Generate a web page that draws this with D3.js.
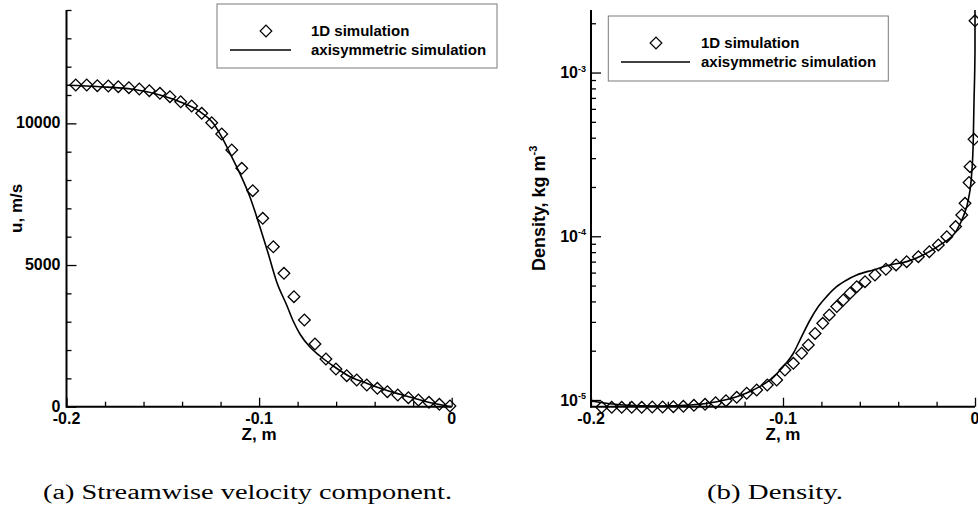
<!DOCTYPE html>
<html><head><meta charset="utf-8">
<script src="https://cdn.jsdelivr.net/npm/d3@7/dist/d3.min.js"></script>
<style>
body{margin:0;background:#fff;}
svg{display:block;}
text{font-family:"Liberation Sans",Arial,sans-serif;font-weight:bold;fill:#000;}
text.cap{font-family:"Liberation Serif","DejaVu Serif",serif;font-weight:normal;}
</style></head><body>
<svg id="c" width="978" height="512"></svg>
<script>
// ---------- data: panel (a) velocity ----------
const uZ1D = [-0.1952,-0.1895,-0.1840,-0.1783,-0.1731,-0.1676,-0.1622,-0.1570,-0.1515,-0.1463,-0.1407,-0.1350,-0.1298,-0.1246,-0.1194,-0.1142,-0.1090,-0.1033,-0.0981,-0.0926,-0.0871,-0.0819,-0.0765,-0.0710,-0.0653,-0.0601,-0.0545,-0.0493,-0.0441,-0.0386,-0.0334,-0.0280,-0.0225,-0.0173,-0.0118,-0.0064,-0.0009];
const uVal1D = [11353,11353,11328,11318,11293,11258,11212,11152,11060,10940,10763,10612,10354,10022,9624,9059,8413,7623,6649,5646,4708,3882,3060,2213,1683,1330,1094,942,766,649,529,413,318,236,155,85,25];
const uZAxi = [-0.2,-0.1827,-0.1654,-0.1515,-0.1412,-0.1307,-0.1238,-0.1195,-0.1151,-0.1100,-0.1048,-0.0996,-0.0953,-0.0909,-0.0857,-0.0823,-0.0788,-0.0736,-0.0684,-0.0615,-0.0528,-0.0441,-0.0355,-0.0268,-0.0182,-0.0096,0];
const uValAxi = [11342,11293,11201,11000,10763,10411,10001,9528,8943,8230,7411,6352,5413,4411,3589,3024,2566,2107,1789,1436,1059,826,614,438,272,120,0];
// ---------- data: panel (b) density ----------
const rhoZ1D = [-0.1944,-0.1892,-0.1840,-0.1788,-0.1736,-0.1681,-0.1627,-0.1571,-0.1519,-0.1464,-0.1406,-0.1351,-0.1297,-0.1241,-0.1189,-0.1137,-0.1082,-0.1033,-0.0990,-0.0946,-0.0903,-0.0868,-0.0833,-0.0793,-0.0759,-0.0720,-0.0686,-0.0651,-0.0616,-0.0573,-0.0521,-0.0464,-0.0411,-0.0356,-0.0295,-0.0238,-0.0191,-0.0147,-0.0101,-0.0069,-0.0052,-0.0031,-0.0026,-0.0005,0];
const rhoVal1D = [9.02e-6,9.02e-6,9.02e-6,9.02e-6,9.02e-6,9.06e-6,9.06e-6,9.10e-6,9.15e-6,9.28e-6,9.41e-6,9.63e-6,9.91e-6,1.038e-5,1.099e-5,1.151e-5,1.235e-5,1.325e-5,1.524e-5,1.674e-5,1.93e-5,2.17e-5,2.55e-5,2.94e-5,3.31e-5,3.72e-5,4.08e-5,4.49e-5,4.92e-5,5.28e-5,5.80e-5,6.29e-5,6.68e-5,7.00e-5,7.51e-5,8.05e-5,8.85e-5,9.95e-5,1.146e-4,1.35e-4,1.59e-4,2.13e-4,2.66e-4,3.91e-4,2.07e-3];
const rhoZAxi = [-0.2,-0.1832,-0.1658,-0.1484,-0.1345,-0.1241,-0.1155,-0.1068,-0.0998,-0.0946,-0.0903,-0.0859,-0.0816,-0.0773,-0.0721,-0.0668,-0.0616,-0.0530,-0.0443,-0.0356,-0.0270,-0.0182,-0.0095,-0.0061,-0.0035,-0.0017,-0.0009,-0.0005,0,0];
const rhoValAxi = [9.86e-6,9.32e-6,9.19e-6,9.32e-6,9.76e-6,1.047e-5,1.151e-5,1.325e-5,1.60e-5,1.93e-5,2.44e-5,3.08e-5,3.72e-5,4.28e-5,4.92e-5,5.41e-5,5.80e-5,6.23e-5,6.68e-5,7.00e-5,7.69e-5,8.85e-5,1.09e-4,1.32e-4,1.67e-4,2.43e-4,3.87e-4,6.8e-4,1.37e-3,2.41e-3];
// ---------- ticks / labels ----------
const zMajor = [-0.2,-0.1,0];
const zMajorLabels = ["-0.2","-0.1","0"];
const zMinor = [-0.18,-0.16,-0.14,-0.12,-0.08,-0.06,-0.04,-0.02];
const uMajor = [0,5000,10000];
const uMajorLabels = ["0","5000","10000"];
const uMinor = [1000,2000,3000,4000,6000,7000,8000,9000,11000,12000,13000,14000];
const rhoMajor = [1e-5,1e-4,1e-3];
const rhoMajorExp = ["-5","-4","-3"];
const rhoMinor = [2e-5,3e-5,4e-5,5e-5,6e-5,7e-5,8e-5,9e-5,2e-4,3e-4,4e-4,5e-4,6e-4,7e-4,8e-4,9e-4,2e-3];
const legendLabels = ["1D simulation","axisymmetric simulation"];
const xTitle = "Z, m";
const captions = ["(a) Streamwise velocity component.","(b) Density."];

const svg = d3.select("#c");
const diamond = d3.symbol().type(d3.symbolSquare).size(68);

function drawPanel(o){
  const g = svg.append("g");
  const x = d3.scaleLinear().domain([-0.2,0]).range([o.x0,o.x1]);
  const y = o.y;
  // line
  const line = d3.line().x((d,i)=>x(o.zA[i])).y((d,i)=>y(o.vA[i])).curve(d3.curveMonotoneX);
  g.append("path").datum(o.vA).attr("d",line).attr("fill","none").attr("stroke","#000").attr("stroke-width",1.6);
  // diamonds
  g.selectAll("path.m").data(o.v1).enter().append("path").attr("class","m")
    .attr("d",diamond).attr("transform",(d,i)=>`translate(${x(o.z1[i])},${y(d)}) rotate(45)`)
    .attr("fill","none").attr("stroke","#000").attr("stroke-width",1.3);
  // x ticks
  const xa = g.append("g").attr("transform",`translate(0,${o.yb})`);
  xa.call(d3.axisBottom(x).tickValues(zMinor).tickSize(-5).tickFormat(""));
  const xb = g.append("g").attr("transform",`translate(0,${o.yb})`);
  xb.call(d3.axisBottom(x).tickValues(zMajor).tickSize(-9).tickFormat(""));
  [xa,xb].forEach(a=>{a.select(".domain").remove();a.selectAll("line").attr("stroke","#000").attr("stroke-width",1.3);});
  zMajor.forEach((v,i)=>{
    g.append("text").attr("x",x(v)).attr("y",o.yb+17).attr("text-anchor","middle").attr("font-size",16).text(zMajorLabels[i]);
  });
  g.append("line").attr("x1",o.x0).attr("x2",o.x1).attr("y1",o.yb).attr("y2",o.yb).attr("stroke","#000").attr("stroke-width",2);
  g.append("line").attr("x1",o.x0).attr("x2",o.x0).attr("y1",o.yt).attr("y2",o.yb+1).attr("stroke","#000").attr("stroke-width",2);
  // y ticks
  const ya = g.append("g").attr("transform",`translate(${o.x0},0)`);
  ya.call(d3.axisLeft(y).tickValues(o.yMinor).tickSize(-5).tickFormat(""));
  const yb = g.append("g").attr("transform",`translate(${o.x0},0)`);
  yb.call(d3.axisLeft(y).tickValues(o.yMajor).tickSize(-10).tickFormat(""));
  [ya,yb].forEach(a=>{a.select(".domain").remove();a.selectAll("line").attr("stroke","#000").attr("stroke-width",1.3);});
  o.yMajor.forEach((v,i)=>{
    if(o.exp){
      const t = g.append("text").attr("x",o.x0-5).attr("y",y(v)+5.6).attr("text-anchor","end").attr("font-size",16);
      t.append("tspan").text("10");
      t.append("tspan").text(o.exp[i]).attr("font-size",9).attr("dy",-6.6);
    } else {
      g.append("text").attr("x",o.x0-6).attr("y",y(v)+5).attr("text-anchor","end").attr("font-size",16).text(o.labels[i]);
    }
  });
  // axis titles
  g.append("text").attr("x",x(-0.1)).attr("y",o.yb+33.5).attr("text-anchor","middle").attr("font-size",17).text(xTitle);
  const yt = g.append("text").attr("transform",`translate(${o.ylx},${(o.yt+o.yb)/2}) rotate(-90)`).attr("text-anchor","middle").attr("font-size",o.ylfs);
  o.ylab(yt);
  // legend
  const L = o.leg;
  g.append("rect").attr("x",L.x).attr("y",L.y).attr("width",L.w).attr("height",L.h).attr("fill","#fff").attr("stroke","#7a7a7a").attr("stroke-width",1);
  g.append("path").attr("d",diamond).attr("transform",`translate(${L.mx},${L.y1}) rotate(45)`).attr("fill","none").attr("stroke","#000").attr("stroke-width",1.2);
  g.append("line").attr("x1",L.lx0).attr("x2",L.lx1).attr("y1",L.y2).attr("y2",L.y2).attr("stroke","#000").attr("stroke-width",1.6);
  g.append("text").attr("x",L.tx).attr("y",L.y1+5).attr("font-size",15).text(legendLabels[0]);
  g.append("text").attr("x",L.tx).attr("y",L.y2+5).attr("font-size",15).text(legendLabels[1]);
  // caption
  svg.append("text").attr("class","cap").attr("x",o.capX).attr("y",499).attr("font-size",20)
    .attr("textLength",o.capW).attr("lengthAdjust","spacingAndGlyphs").text(o.cap);
}

drawPanel({
  x0:66.5,x1:451.7,yt:10,yb:406.7,
  y:d3.scaleLinear().domain([0,14000]).range([406.7,10]),
  z1:uZ1D,v1:uVal1D,zA:uZAxi,vA:uValAxi,
  yMajor:uMajor,yMinor:uMinor,labels:uMajorLabels,exp:null,
  ylx:22,ylfs:17,ylab:t=>t.text("u, m/s"),
  leg:{x:217,y:4,w:280,h:64,mx:266,y1:31,y2:50,lx0:230,lx1:291,tx:311},
  cap:captions[0],capX:43,capW:409
});
drawPanel({
  x0:591,x1:975,yt:10,yb:406.7,
  y:d3.scaleLog().domain([9.1e-6,2.41e-3]).range([406.7,10]),
  z1:rhoZ1D,v1:rhoVal1D,zA:rhoZAxi,vA:rhoValAxi,
  yMajor:rhoMajor,yMinor:rhoMinor,labels:null,exp:rhoMajorExp,
  ylx:545,ylfs:18,ylab:t=>{t.append("tspan").text("Density, kg m");t.append("tspan").text("-3").attr("font-size",11).attr("dy",-8);},
  leg:{x:608.3,y:16,w:280,h:65,mx:656,y1:43,y2:62,lx0:621,lx1:690,tx:701},
  cap:captions[1],capX:707,capW:136
});
</script></body></html>
